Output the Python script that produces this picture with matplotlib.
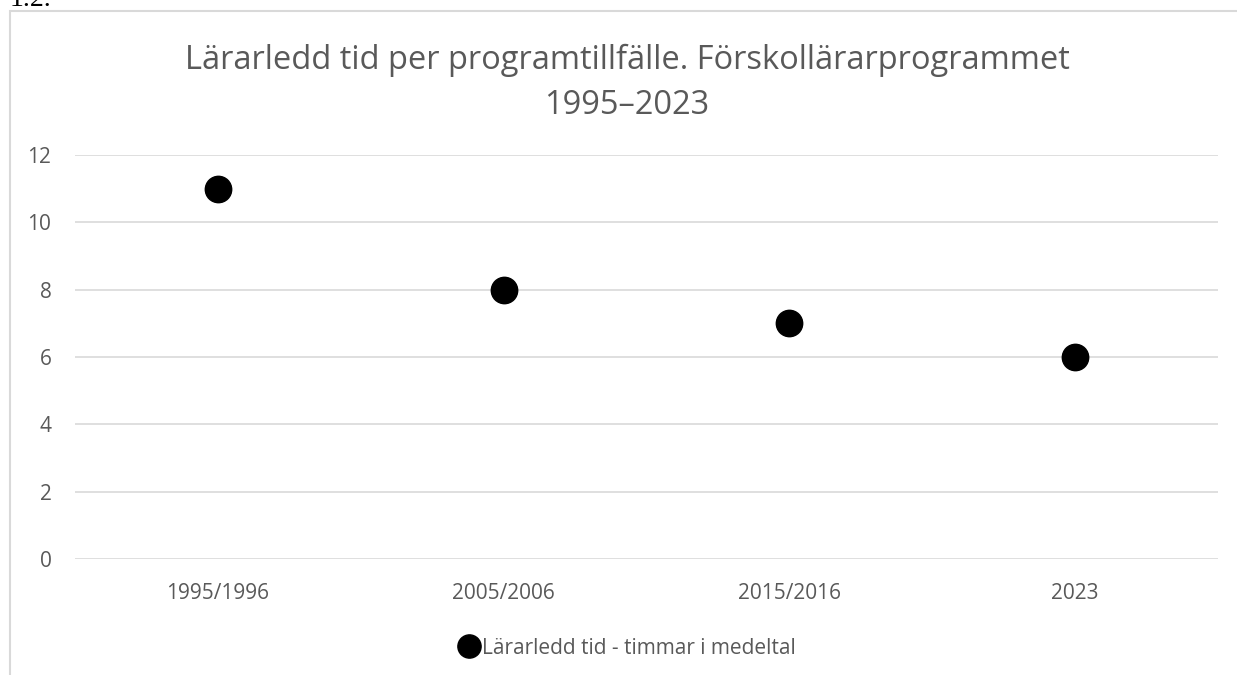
import matplotlib
matplotlib.use("Agg")
import matplotlib.pyplot as plt
from matplotlib.patches import Rectangle

categories = ["1995/1996", "2005/2006", "2015/2016", "2023"]
values = [11, 8, 7, 6]
series_name = "Lärarledd tid - timmar i medeltal"
title = "Lärarledd tid per programtillfälle. Förskollärarprogrammet\n1995–2023"
yticks = [0, 2, 4, 6, 8, 10, 12]

plt.rcParams['font.family'] = ['Open Sans', 'DejaVu Sans']
W, H = 1237, 675
fig = plt.figure(figsize=(W/100, H/100), dpi=100)

# chart border
fig.patches.append(Rectangle((10/W, -0.1), 1.2, 1 - 11/H + 0.1, transform=fig.transFigure,
                             fill=False, edgecolor='#d9d9d9', linewidth=1.5))
fig.text(10/W, 1 - 6/H, "1.2.", family='Liberation Serif', fontsize=20, va='baseline', ha='left', color='black')

ax = fig.add_axes([75/W, 1 - 559/H, (1218-75)/W, (559-155)/H])
x = list(range(len(categories)))
ax.plot(x, values, linestyle='none', marker='o', markersize=19, color='black', label=series_name)
ax.set_xlim(-0.5, len(categories) - 0.5)
ax.set_ylim(0, 12)
ax.set_yticks(yticks)
ax.set_xticks(x)
ax.set_xticklabels(categories)
for s in ax.spines.values():
    s.set_visible(False)
ax.grid(axis='y', color='#d9d9d9', linewidth=1.2)
ax.set_axisbelow(True)
ax.tick_params(length=0, labelsize=15, labelcolor='#595959')
ax.tick_params(axis='y', pad=17)
ax.tick_params(axis='x', pad=17)

fig.text(627/W, 1 - 83/H, title, ha='center', va='center', fontsize=23.5, color='#595959', linespacing=1.5)

leg = fig.legend(loc='center', bbox_to_anchor=(628/W, 1 - 648/H), frameon=False, fontsize=15,
                 handlelength=0.8, handletextpad=0.25, markerscale=0.88)
for t in leg.get_texts():
    t.set_color('#595959')

fig.savefig("out.png", dpi=100)
